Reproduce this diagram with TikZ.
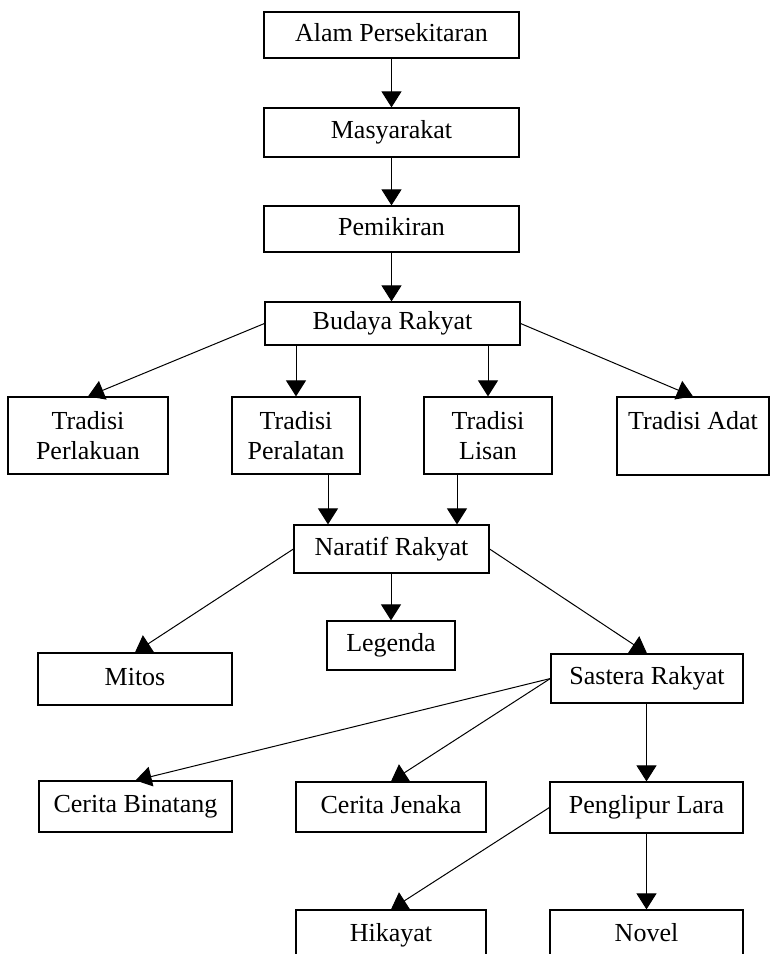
\documentclass[tikz,border=0pt]{standalone}
\usepackage{fontspec}
\setmainfont{Liberation Serif}
\usetikzlibrary{arrows.meta,calc}
\begin{document}
\begin{tikzpicture}[x=0.5pt,y=-0.5pt,
  box/.style={draw, line width=0.6pt, inner sep=0pt, align=center,
    font=\fontsize{13}{15}\selectfont},
  one/.style={box, text height=9pt, text depth=3pt},
  arr/.style={line width=0.5pt, -{Triangle[width=10pt,length=8pt]}}]
\useasboundingbox (0,0) rectangle (770,954);
\clip (0,0) rectangle (770,954);
\node[one, minimum width=127.5pt, minimum height=23pt]   (alam)   at (391.5,35)    {Alam Persekitaran};
\node[one, minimum width=127.5pt, minimum height=24.5pt] (masy)   at (391.5,132.5) {Masyarakat};
\node[one, minimum width=127.5pt, minimum height=23pt]   (pemi)   at (391.5,229)   {Pemikiran};
\node[one, minimum width=127.5pt, minimum height=21.5pt] (budaya) at (392.5,323.5) {Budaya Rakyat};
\node[box, minimum width=80pt, minimum height=38.5pt]    (perl)   at (88,435.5)    {Tradisi\\Perlakuan};
\node[box, minimum width=64pt, minimum height=38.5pt]    (peral)  at (296,435.5)   {Tradisi\\Peralatan};
\node[box, minimum width=64pt, minimum height=38.5pt]    (lisan)  at (488,435.5)   {Tradisi\\Lisan};
\node[box, minimum width=76pt, minimum height=39pt]      (adat)   at (693,436)     {Tradisi Adat\\\phantom{Lisan}};
\node[one, minimum width=97.5pt, minimum height=24pt]    (narr)   at (391.5,549)   {Naratif Rakyat};
\node[one, minimum width=64pt, minimum height=24.5pt]    (legenda) at (391,645.5)  {Legenda};
\node[one, minimum width=97pt, minimum height=26pt]      (mitos)  at (135,679)     {Mitos};
\node[one, minimum width=96pt, minimum height=24.5pt]    (sastera) at (647,678.5)  {Sastera Rakyat};
\node[one, minimum width=96.5pt, minimum height=25.5pt]  (binatang) at (135.5,806.5) {Cerita Binatang};
\node[one, minimum width=95pt, minimum height=25pt]      (jenaka) at (391,807)     {Cerita Jenaka};
\node[one, minimum width=96.5pt, minimum height=25.5pt]  (penglipur) at (646.5,807.5) {Penglipur Lara};
\node[one, minimum width=95pt, minimum height=25pt]      (hikayat) at (391,935)    {Hikayat};
\node[one, minimum width=96.5pt, minimum height=25pt]    (novel)  at (646.5,935)   {Novel};

\draw[arr] (alam) -- (masy);
\draw[arr] (masy) -- (pemi);
\draw[arr] (pemi.south) -- (pemi.south |- budaya.north);
\draw[arr] (budaya.west) -- (perl.north);
\draw[arr] (budaya.south -| peral.north) -- (peral.north);
\draw[arr] (budaya.south -| lisan.north) -- (lisan.north);
\draw[arr] (budaya.east) -- (adat.north);
\draw[arr] ([xshift=16pt]peral.south) -- ([xshift=16pt]peral.south |- narr.north);
\draw[arr] ([xshift=-15.5pt]lisan.south) -- ([xshift=-15.5pt]lisan.south |- narr.north);
\draw[arr] (narr.west) -- (mitos.north);
\draw[arr] (narr.south -| legenda.north) -- (legenda.north);
\draw[arr] (narr.east) -- (sastera.north);
\draw[arr] (sastera.west) -- (binatang.north);
\draw[arr] (sastera.west) -- (jenaka.north);
\draw[arr] (sastera.south -| penglipur.north) -- (penglipur.north);
\draw[arr] (penglipur.west) -- (hikayat.north);
\draw[arr] (penglipur) -- (novel);
\end{tikzpicture}
\end{document}
